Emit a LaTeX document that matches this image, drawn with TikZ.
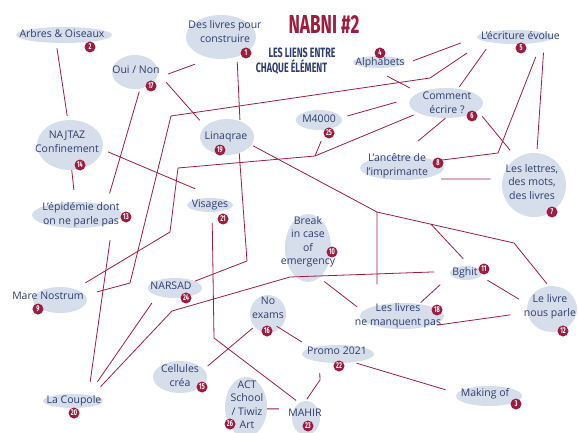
\documentclass[tikz,border=0pt]{standalone}
\usepackage{fontspec}
\setmainfont{Open Sans}
\newfontfamily\titlefont{Fira Sans}[FakeStretch=0.66]
\usetikzlibrary{shapes.geometric}
\definecolor{crimson}{HTML}{9D1C3F}
\definecolor{ink}{HTML}{2E3D6B}
\definecolor{bubble}{HTML}{D6DEEC}
\tikzset{
idea/.style={ellipse, fill=bubble, text=ink, inner sep=0pt, font=\fontsize{10.5}{13.5}\selectfont},
bsize/.style 2 args={minimum width=#1pt, minimum height=#2pt},
badge/.style={circle, fill=crimson, text=white, inner sep=0pt, minimum size=11pt, font=\titlefont\bfseries\fontsize{8.5}{8.5}\selectfont},
link/.style={draw=crimson, line width=0.8pt},
gap/.style 2 args={shorten <=#1pt, shorten >=#2pt},
titre/.style={text=crimson, inner sep=0pt, font=\titlefont\bfseries\fontsize{26}{26}\selectfont},
soustitre/.style={text=ink, inner sep=0pt, font=\titlefont\bfseries\fontsize{13.5}{13.5}\selectfont}
}
\newcommand{\txt}[3]{\smash{\makebox[0pt]{\kern#1pt\raisebox{\dimexpr#2pt-2.6pt\relax}{\begin{tabular}{@{}c@{}}#3\end{tabular}}\kern-#1pt}}}

\begin{document}
\begin{tikzpicture}[x=1pt, y=-1pt]
\useasboundingbox (0,0) rectangle (578,433);

\node[titre] (titre) at (324,24) {NABNI \#2};
\node[soustitre] (sous1) at (302,52.5) {LES LIENS ENTRE};
\node[soustitre] (sous2) at (291.5,67.5) {CHAQUE ÉLÉMENT};

% bulles
\node[idea, bsize={70}{44}] (livres) at (221,37) {\txt{4}{4}{Des livres pour\\construire}};
\node[idea, bsize={96}{16}] (arbres) at (64,35) {\txt{-2}{0}{Arbres \& Oiseaux}};
\node[idea, bsize={46}{34}] (ouinon) at (135,72) {\txt{1}{1}{Oui / Non}};
\node[idea, bsize={52}{12}] (alpha) at (379,62) {\txt{1}{-1}{Alphabets}};
\node[idea, bsize={76}{14}] (ecrit) at (515,37) {\txt{5.5}{0}{L'écriture évolue}};
\node[idea, bsize={74}{30}] (comment) at (446,103) {\txt{1}{-1}{Comment\\écrire ?}};
\node[idea, bsize={46}{20}] (m4000) at (319,120) {\txt{0}{0}{M4000}};
\node[idea, bsize={54}{36}] (linaq) at (227,137) {\txt{-1}{0}{Linaqrae}};
\node[idea, bsize={66}{50}] (najtaz) at (70,145) {\txt{-3}{2}{NAJTAZ\\Confinement}};
\node[idea, bsize={84}{24}] (ancetre) at (402,168) {\txt{-5}{2}{L'ancêtre de\\l'imprimante}};
\node[idea, bsize={64}{64}] (lettres) at (534,185) {\txt{-2}{2}{Les lettres,\\des mots,\\des livres}};
\node[idea, bsize={90}{26}] (epid) at (77,215) {\txt{4}{0}{L'épidémie dont\\on ne parle pas}};
\node[idea, bsize={46}{14}] (visages) at (210,205) {\txt{0}{0}{Visages}};
\node[idea, bsize={46}{68}] (break) at (308,248) {\txt{0}{6}{Break\\in case\\of\\emergency}};
\node[idea, bsize={32}{14}] (bghit) at (466,273) {\txt{-1}{0}{Bghit}};
\node[idea, bsize={54}{26}] (mare) at (60,300) {\txt{-12}{3}{Mare Nostrum}};
\node[idea, bsize={54}{20}] (narsad) at (175,288) {\txt{-4}{1}{NARSAD}};
\node[idea, bsize={50}{46}] (parle) at (552,309) {\txt{-2}{2}{Le livre\\nous parle}};
\node[idea, bsize={84}{26}] (manquent) at (402,316) {\txt{-4}{0}{Les livres\\ne manquent pas}};
\node[idea, bsize={36}{38}] (exams) at (268,314) {\txt{0}{5}{No\\exams}};
\node[idea, bsize={72}{18}] (promo) at (338,354) {\txt{-1}{2}{Promo 2021}};
\node[idea, bsize={54}{32}] (cellules) at (180,377) {\txt{0}{0}{Cellules\\créa}};
\node[idea, bsize={66}{20}] (making) at (489,396) {\txt{-4}{2}{Making of}};
\node[idea, bsize={60}{14}] (coupole) at (73,401) {\txt{1}{0}{La Coupole}};
\node[idea, bsize={42}{60}] (act) at (246,407) {\txt{1}{1}{ACT\\School\\/ Tiwiz\\Art}};
\node[idea, bsize={28}{34}] (mahir) at (306,418) {\txt{-1}{4}{MAHIR}};

% coudes des liens
\coordinate (e1) at (430,78);
\coordinate (e2) at (171,116);
\coordinate (e3) at (130,283);
\coordinate (j1) at (315,156);
\coordinate (j2) at (178,168);
\coordinate (j3) at (170,232);
\coordinate (m1) at (498,153);
\coordinate (g1) at (377,212);
\coordinate (g2) at (431,224.2);
\coordinate (g3) at (514,243);
\coordinate (h1) at (172,311);
\coordinate (h2) at (290,277);
\coordinate (q1) at (320,380);
\coordinate (v1) at (214,338);
\coordinate (p1) at (247,261);

% liens
\draw[link, gap={5}{4}] (arbres.-134) -- (najtaz.95);
\draw[link, gap={12}{17}] (ouinon.-16) -- (livres.-115);
\draw[link, gap={12}{8}] (ouinon.-3) -- (linaq.154);
\draw[link, gap={3}{12}] (ouinon.-73) -- (epid.19);
\draw[link, gap={5}{1}] (livres.-51) -- (linaq.51);
\draw[link, gap={21}{12}] (ecrit.-172) -- (e1) -- (e2) -- (e3) -- (mare.11);
\draw[link, gap={6}{24}] (najtaz.-8) -- (visages.43);
\draw[link, gap={0}{12}] (najtaz.-86) -- (epid.98);
\draw[link, gap={5}{12}] (comment.-160) -- (j1) -- (j2) -- (j3) -- (mare.36);
\draw[link, gap={12}{0}] (m4000.-55) -- (j1);
\draw[link, gap={14}{17}] (alpha.-10) -- (ecrit.180);
\draw[link, gap={18}{10}] (alpha.-143) -- (comment.159);
\draw[link, gap={8}{2}] (ecrit.-167) -- (comment.50);
\draw[link, gap={6}{15}] (m4000.6) -- (comment.172);
\draw[link, gap={0}{23}] (comment.-92) -- (ancetre.98);
\draw[link, gap={7}{10}] (comment.-14) -- (lettres.123);
\draw[link, gap={16}{6}] (ecrit.-11) -- (m1) -- (ancetre.12);
\draw[link, gap={11}{4}] (ecrit.-9) -- (lettres.85);
\draw[link, gap={22}{12}] (ancetre.-33) -- (lettres.169);
\draw[link, gap={2}{3}] (linaq.-18) -- (g1) -- (g3) -- (parle.98);
\draw[link, gap={0}{10}] (g2) -- (bghit.60);
\draw[link, gap={0}{21}] (g1) -- (manquent.157);
\draw[link, gap={12}{16}] (coupole.16) -- (h1) -- (h2) -- (bghit.174);
\draw[link, gap={17}{13}] (epid.-13) -- (coupole.22);
\draw[link, gap={9}{16}] (narsad.-157) -- (coupole.22);
\draw[link, gap={14}{2}] (bghit.-172) -- (manquent.35);
\draw[link, gap={8}{10}] (bghit.-12) -- (parle.169);
\draw[link, gap={17}{28}] (parle.-172) -- (manquent.-60);
\draw[link, gap={6}{7}] (break.-69) -- (manquent.173);
\draw[link, gap={3}{12}] (promo.-28) -- (making.175);
\draw[link, gap={11}{2}] (promo.-157) -- (q1) -- (mahir.91);
\draw[link, gap={-4}{11}] (exams.-50) -- (promo.167);
\draw[link, gap={2}{5}] (exams.-137) -- (cellules.18);
\draw[link, gap={0}{15}] (act.-5) -- (mahir.143);
\draw[link, gap={11}{4}] (visages.-74) -- (v1) -- (mahir.114);
\draw[link, gap={0}{0}] (linaq.-53) -- (p1) -- (narsad.19);

% numeros
\node[badge] (num1) at (246,53) {1};
\node[badge] (num2) at (90,47) {2};
\node[badge] (num3) at (516,404) {3};
\node[badge] (num4) at (380,53) {4};
\node[badge] (num5) at (521,48) {5};
\node[badge] (num6) at (472,116) {6};
\node[badge] (num7) at (552,212) {7};
\node[badge] (num8) at (438,163) {8};
\node[badge] (num9) at (38,309) {9};
\node[badge] (num10) at (332,252) {10};
\node[badge] (num11) at (484,269) {11};
\node[badge] (num12) at (563,331) {12};
\node[badge] (num13) at (126,217) {13};
\node[badge] (num14) at (80,165) {14};
\node[badge] (num15) at (202,387) {15};
\node[badge] (num16) at (267,331) {16};
\node[badge] (num17) at (151,86) {17};
\node[badge] (num18) at (437,310) {18};
\node[badge] (num19) at (220,150) {19};
\node[badge] (num20) at (74,413) {20};
\node[badge] (num21) at (223,219) {21};
\node[badge] (num22) at (339,366) {22};
\node[badge] (num23) at (308,426) {23};
\node[badge] (num24) at (186,298) {24};
\node[badge] (num25) at (329,133) {25};
\node[badge] (num26) at (230,424) {26};
\end{tikzpicture}
\end{document}
